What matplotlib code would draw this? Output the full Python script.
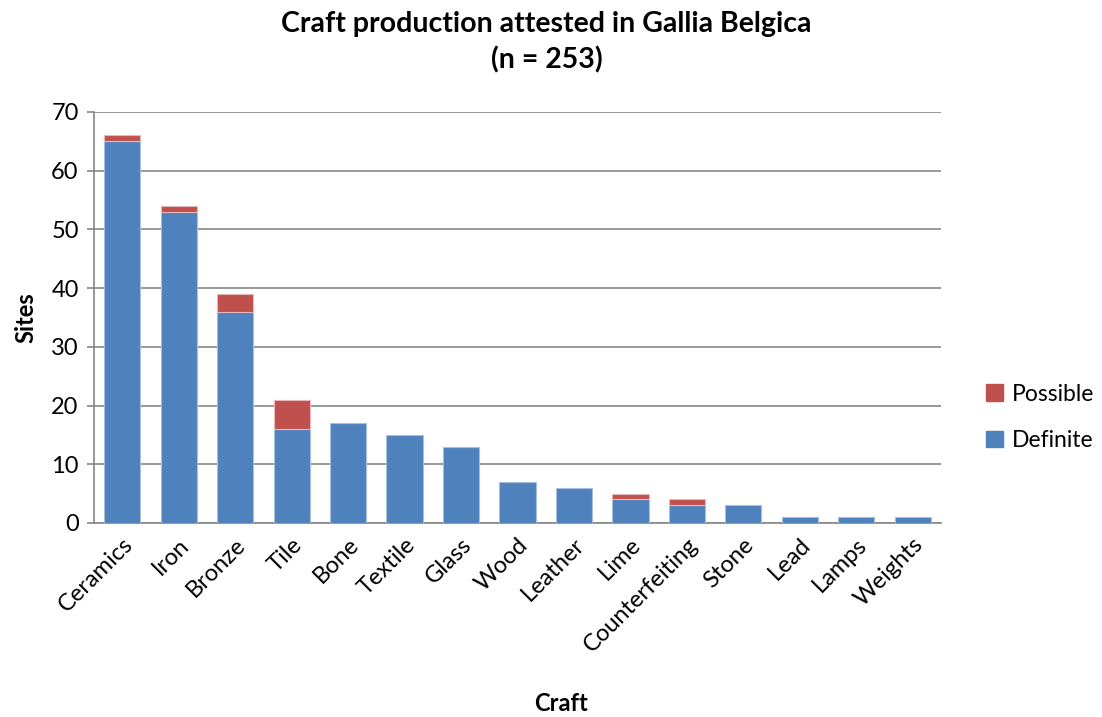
import matplotlib
import numpy as np

matplotlib.use("Agg")
import matplotlib.pyplot as plt
from matplotlib.patches import Patch

crafts = ["Ceramics", "Iron", "Bronze", "Tile", "Bone", "Textile", "Glass", "Wood",
          "Leather", "Lime", "Counterfeiting", "Stone", "Lead", "Lamps", "Weights"]
definite = [65, 53, 36, 16, 17, 15, 13, 7, 6, 4, 3, 3, 1, 1, 1]
possible = [1, 1, 3, 5, 0, 0, 0, 0, 0, 1, 1, 0, 0, 0, 0]

blue = "#4F81BD"
red = "#C0504D"
grid = "#868686"

plt.rcParams["font.family"] = ["Lato", "DejaVu Sans"]

fig = plt.figure(figsize=(11.02, 7.17), dpi=100)
ax = fig.add_axes([0.0853, 0.2706, 0.7686, 0.5732])

x = np.arange(len(crafts))
ax.bar(x, definite, width=0.64, color=blue, edgecolor="#A7BFDE", linewidth=0.8, zorder=3)
# only stack the "possible" segment where there is one
pos = np.array(possible) > 0
ax.bar(x[pos], np.array(possible)[pos], width=0.64, bottom=np.array(definite)[pos],
       color=red, edgecolor="#E6B9B8", linewidth=0.8, zorder=3)

ax.set_xlim(-0.5, len(crafts) - 0.5)
ax.set_ylim(0, 70)
ax.set_yticks(range(0, 71, 10))
ax.yaxis.grid(True, color=grid, linewidth=1.2, zorder=0)
ax.set_axisbelow(True)
for s in ["top", "right"]:
    ax.spines[s].set_visible(False)
for s in ["left", "bottom"]:
    ax.spines[s].set_color(grid)
    ax.spines[s].set_linewidth(1.2)

ax.set_xticks(x)
ax.set_xticklabels(crafts, rotation=45, ha="right", rotation_mode="anchor", fontsize=17)
ax.tick_params(axis="x", length=0, pad=8)
ax.tick_params(axis="y", labelsize=17, length=5, color=grid, width=1.2, pad=6)

ax.set_ylabel("Sites", fontsize=17, fontweight="bold", labelpad=10)
fig.text(0.5095, 0.008, "Craft", ha="center", fontsize=17, fontweight="bold")
fig.suptitle("Craft production attested in Gallia Belgica\n(n = 253)", x=0.496, y=0.985,
             fontsize=20.5, fontweight="bold", linespacing=1.45)

handles = [Patch(color=red, label="Possible"), Patch(color=blue, label="Definite")]
fig.legend(handles=handles, loc="center left", bbox_to_anchor=(0.876, 0.418),
           frameon=False, fontsize=16.5, handlelength=0.75, handleheight=0.75,
           handletextpad=0.4, labelspacing=1.1)

fig.savefig("out.png", dpi=100)
